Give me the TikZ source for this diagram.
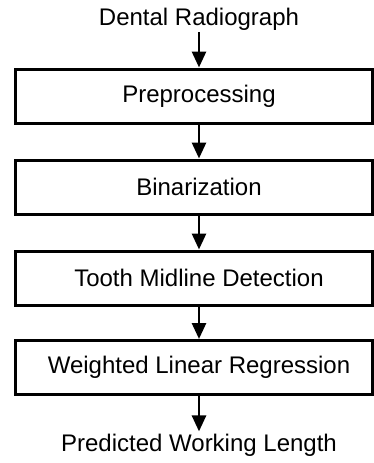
\documentclass[tikz,border=0pt]{standalone}
\usepackage{fontspec}
\setmainfont{Liberation Sans}
\usepackage{tikz}
\usetikzlibrary{arrows.meta}

\begin{document}
\begin{tikzpicture}[
  x=1pt, y=-1pt,
  stage/.style={
    draw, line width=3pt,
    minimum width=357pt, minimum height=54pt,
    inner sep=0pt, font=\fontsize{24}{28}\selectfont,
    execute at begin node=\hspace*{11pt}
  },
  endpoint/.style={
    inner sep=2pt, anchor=base, font=\fontsize{24}{28}\selectfont
  },
  flow/.style={
    line width=2.8pt, -{Triangle[length=16pt,width=14pt]}
  }
  ]
  \useasboundingbox (0,0) rectangle (373,463);
  \node [endpoint] (radiograph) at (199,25) {Dental Radiograph};
  \node [stage] (preproc) at (193.5,96) {Preprocessing};
  \node [stage] (binar) at (193.5,187) {Binarization};
  \node [stage] (midline) at (193.5,278) {Tooth Midline Detection};
  \node [stage] (regress) at (193.5,367.5) {Weighted Linear Regression};
  \node [endpoint] (length) at (199,451) {Predicted Working Length};
  % arrows run straight down under the texts
  \draw [flow] (radiograph) -- (radiograph |- preproc.north);
  \draw [flow] (preproc.south -| radiograph) -- (binar.north -| radiograph);
  \draw [flow] (binar.south -| radiograph) -- (midline.north -| radiograph);
  \draw [flow] (midline.south -| radiograph) -- (regress.north -| radiograph);
  \draw [flow] (regress.south -| radiograph) -- (length);
\end{tikzpicture}
\end{document}
